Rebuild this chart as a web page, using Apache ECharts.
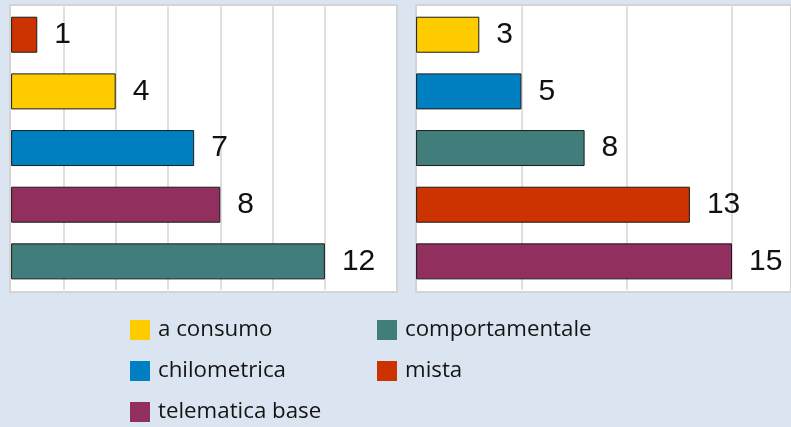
<!DOCTYPE html>
<html>
<head>
<meta charset="utf-8">
<script src="https://cdn.jsdelivr.net/npm/echarts@6/dist/echarts.min.js"></script>
<style>
html,body{margin:0;padding:0;background:#DBE5F1;}
#chart{width:791px;height:427px;}
</style>
</head>
<body>
<div id="chart"></div>
<script>
// Category names (legend order)
const legendNames = ['a consumo', 'comportamentale', 'chilometrica', 'mista', 'telematica base'];
const legendColors = {
  'a consumo': '#FFCC00',
  'comportamentale': '#417E7B',
  'chilometrica': '#0080C0',
  'mista': '#CC3300',
  'telematica base': '#912F5E'
};

// Left panel (top to bottom)
const leftCategories = ['mista', 'a consumo', 'chilometrica', 'telematica base', 'comportamentale'];
const leftValues = [1, 4, 7, 8, 12];

// Right panel (top to bottom)
const rightCategories = ['a consumo', 'chilometrica', 'comportamentale', 'mista', 'telematica base'];
const rightValues = [3, 5, 8, 13, 15];

const chart = echarts.init(document.getElementById('chart'));

function makeSeries(name, cats, vals, idx) {
  return {
    name: name,
    type: 'bar',
    xAxisIndex: idx,
    yAxisIndex: idx,
    stack: 'g' + idx,
    barWidth: 36,
    itemStyle: { color: legendColors[name], borderColor: '#1a1a1a', borderWidth: 1 },
    label: {
      show: true,
      position: 'right',
      distance: 17,
      fontFamily: 'Liberation Sans',
      fontSize: 30,
      color: '#111',
      formatter: p => p.value
    },
    data: cats.map((c, i) => (c === name ? vals[i] : '-'))
  };
}

const series = [];
legendNames.forEach(n => {
  series.push(makeSeries(n, leftCategories, leftValues, 0));
  series.push(makeSeries(n, rightCategories, rightValues, 1));
});

const panelStyle = { show: true, backgroundColor: '#ffffff', borderColor: '#d4d4d4', borderWidth: 2, z: -1 };
const splitStyle = { show: true, showMinLine: false, showMaxLine: false, lineStyle: { color: '#d4d4d4', width: 1.5 } };
const hidden = { axisLabel: { show: false }, axisLine: { show: false }, axisTick: { show: false } };

const legendText = { fontFamily: 'Open Sans', fontSize: 22.3, color: '#141414', padding: [3, 0, 0, 3] };

chart.setOption({
  backgroundColor: '#DBE5F1',
  animation: false,
  grid: [
    { left: 11.1, top: 6.4, width: 366.1, height: 283.3, show: false },
    { left: 416.1, top: 6.4, width: 374.9, height: 283.3, show: false },
    Object.assign({ left: 10, top: 5, width: 387, height: 287 }, panelStyle),
    Object.assign({ left: 416, top: 5, width: 376, height: 287 }, panelStyle)
  ],
  xAxis: [
    Object.assign({ type: 'value', gridIndex: 0, min: 0, max: 14, interval: 2, splitLine: splitStyle }, hidden),
    Object.assign({ type: 'value', gridIndex: 1, min: 0, max: 17.8, interval: 5, splitLine: splitStyle }, hidden)
  ],
  yAxis: [
    Object.assign({ type: 'category', gridIndex: 0, data: leftCategories, inverse: true }, hidden),
    Object.assign({ type: 'category', gridIndex: 1, data: rightCategories, inverse: true }, hidden)
  ],
  legend: [
    { data: ['a consumo', 'chilometrica', 'telematica base'], orient: 'vertical', left: 130, top: 319,
      itemWidth: 20, itemHeight: 20, itemGap: 19, icon: 'rect', textStyle: legendText,
      itemStyle: { borderWidth: 0 }, selectedMode: false, padding: 0 },
    { data: ['comportamentale', 'mista'], orient: 'vertical', left: 377, top: 319,
      itemWidth: 20, itemHeight: 20, itemGap: 19, icon: 'rect', textStyle: legendText,
      itemStyle: { borderWidth: 0 }, selectedMode: false, padding: 0 }
  ],
  series: series
});
</script>
</body>
</html>
